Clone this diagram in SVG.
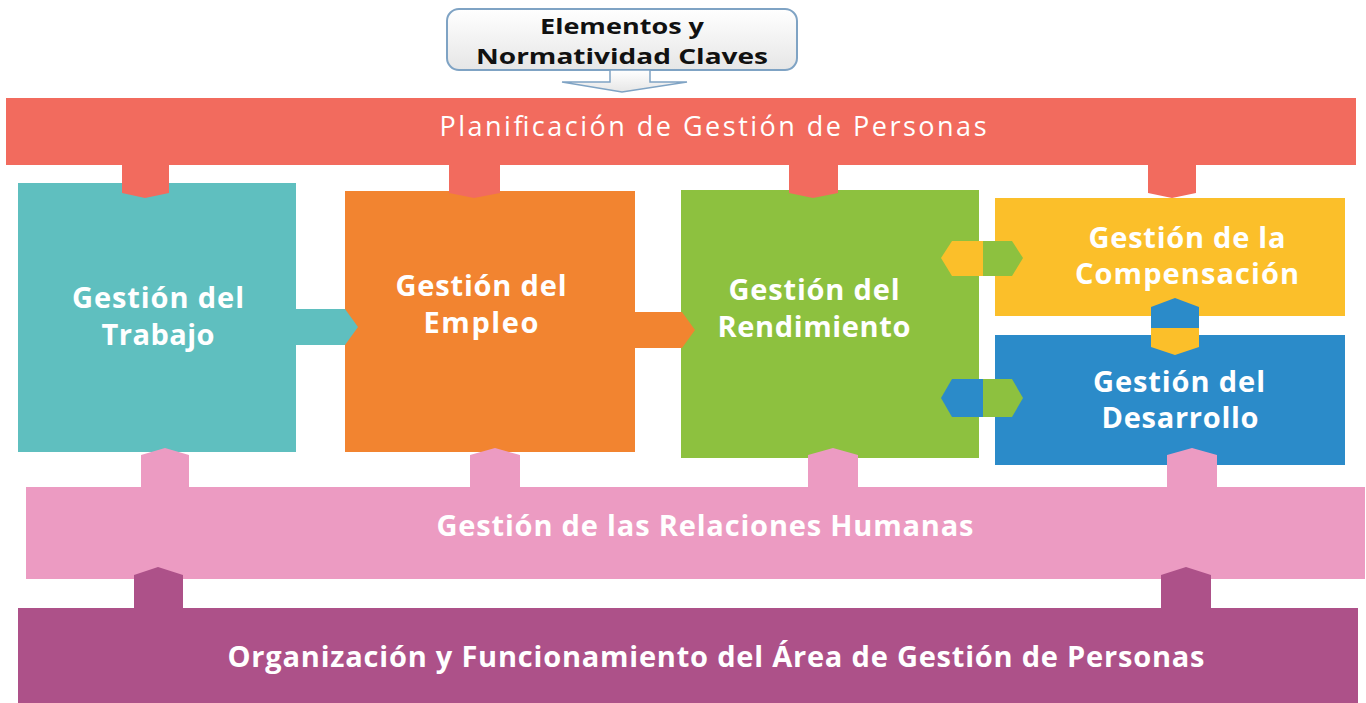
<svg xmlns="http://www.w3.org/2000/svg" width="1366" height="703" viewBox="0 0 1366 703">
<defs>
<linearGradient id="hdr" x1="0" y1="0" x2="0" y2="1">
<stop offset="0" stop-color="#ffffff"/>
<stop offset="1" stop-color="#e6e6e6"/>
</linearGradient>
<style>
.t{font-family:"Open Sans","DejaVu Sans",sans-serif;fill:#fff;text-anchor:middle;font-weight:bold;font-size:29px}
.tn{font-family:"Open Sans","DejaVu Sans",sans-serif;fill:#fff;text-anchor:middle;font-weight:normal;font-size:27px}
.hd{font-family:"Open Sans","DejaVu Sans",sans-serif;fill:#111;text-anchor:middle;font-weight:bold;font-size:21px}
.salmon{fill:#F26B5E}.teal{fill:#5FBFBF}.orange{fill:#F28430}.green{fill:#8DC13F}.yellow{fill:#FBBF2A}.blue{fill:#2B8BC9}.pink{fill:#EC9BC2}.purple{fill:#AD5189}
</style>
</defs>
<rect width="1366" height="703" fill="#fff"/>

<g id="header">
<rect x="447" y="9" width="350" height="61" rx="12" fill="url(#hdr)" stroke="#7FA3C4" stroke-width="2"/>
<path d="M610,70 L650,70 L650,82 L687,82 L622,92 L562,82 L610,82 Z" fill="url(#hdr)" stroke="#7FA3C4" stroke-width="1.5"/>
<text class="hd" x="622" y="34" textLength="164" lengthAdjust="spacingAndGlyphs">Elementos y</text>
<text class="hd" x="622" y="64" textLength="292" lengthAdjust="spacingAndGlyphs">Normatividad Claves</text>
</g>

<g id="planificacion">
<rect class="salmon" x="6" y="98" width="1350" height="67"/>
<text class="tn" x="713" y="136" textLength="547">Planificación de Gestión de Personas</text>
</g>

<g id="trabajo">
<rect class="teal" x="18" y="183" width="278" height="269"/>
<text class="t" x="158" y="308" textLength="172">Gestión del</text>
<text class="t" x="158" y="345" textLength="113">Trabajo</text>
</g>

<g id="empleo">
<rect class="orange" x="345" y="191" width="290" height="261"/>
<text class="t" x="481" y="296" textLength="171">Gestión del</text>
<text class="t" x="481" y="333" textLength="115">Empleo</text>
</g>

<g id="rendimiento">
<rect class="green" x="681" y="190" width="298" height="268"/>
<text class="t" x="814" y="300" textLength="171">Gestión del</text>
<text class="t" x="814" y="337" textLength="193">Rendimiento</text>
</g>

<g id="compensacion">
<rect class="yellow" x="995" y="198" width="350" height="118"/>
<text class="t" x="1187" y="248" textLength="197">Gestión de la</text>
<text class="t" x="1187" y="284" textLength="224">Compensación</text>
</g>

<g id="desarrollo">
<rect class="blue" x="995" y="335" width="350" height="130"/>
<text class="t" x="1179" y="392" textLength="172">Gestión del</text>
<text class="t" x="1180" y="428" textLength="157">Desarrollo</text>
</g>

<g id="relaciones">
<rect class="pink" x="26" y="487" width="1339" height="92"/>
<text class="t" x="705" y="536" textLength="537">Gestión de las Relaciones Humanas</text>
</g>

<g id="organizacion">
<rect class="purple" x="18" y="608" width="1340" height="95"/>
<text class="t" x="716" y="667" textLength="977">Organización y Funcionamiento del Área de Gestión de Personas</text>
</g>

<g id="connectors">
<path class="salmon" d="M122,164 H169 V193 L145,198 L122,193 Z"/>
<path class="salmon" d="M449,164 H500 V193 L474,198 L449,193 Z"/>
<path class="salmon" d="M789,164 H838 V193 L813,198 L789,193 Z"/>
<path class="salmon" d="M1148,164 H1196 V193 L1172,198 L1148,193 Z"/>
<path class="teal" d="M295,309 H345 L358,327 L345,345 H295 Z"/>
<path class="orange" d="M634,312 H682 L695,330 L682,348 H634 Z"/>
<path class="yellow" d="M983,241 H952 L941,258 L952,276 H983 Z"/>
<path class="green" d="M983,241 H1012 L1023,258 L1012,276 H983 Z"/>
<path class="blue" d="M983,379 H952 L941,398 L952,417 H983 Z"/>
<path class="green" d="M983,379 H1012 L1023,398 L1012,417 H983 Z"/>
<path class="blue" d="M1151,328 V307 L1175,298 L1199,307 V328 Z"/>
<path class="yellow" d="M1151,328 V347 L1175,355 L1199,347 V328 Z"/>
<path class="pink" d="M141,488 V455 L165,448 L189,455 V488 Z"/>
<path class="pink" d="M470,488 V455 L495,448 L520,455 V488 Z"/>
<path class="pink" d="M808,488 V455 L833,448 L858,455 V488 Z"/>
<path class="pink" d="M1167,488 V455 L1192,448 L1217,455 V488 Z"/>
<path class="purple" d="M134,609 V575 L158,567 L183,575 V609 Z"/>
<path class="purple" d="M1161,609 V575 L1186,567 L1211,575 V609 Z"/>
</g>
</svg>
